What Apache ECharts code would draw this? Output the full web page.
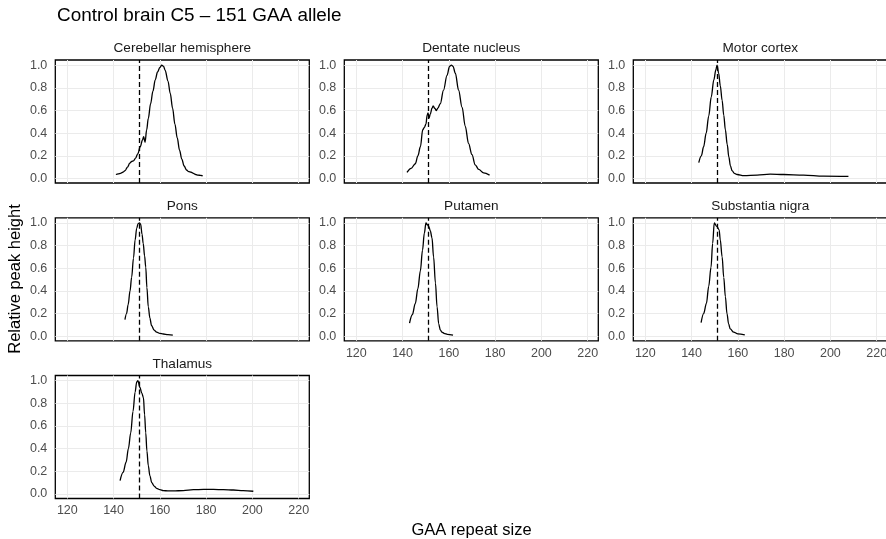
<!DOCTYPE html>
<html><head><meta charset="utf-8">
<script src="https://cdn.jsdelivr.net/npm/echarts@6/dist/echarts.min.js"></script>
<style>html,body{margin:0;padding:0;background:#fff}#c{width:886px;height:539px}</style>
</head><body><div id="c"></div>
<script>
// ---- data ----
const chartTitle = 'Control brain C5 \u2013 151 GAA allele';
const xAxisTitle = 'GAA repeat size';
const yAxisTitle = 'Relative peak height';
const panelNames = ['Cerebellar hemisphere','Dentate nucleus','Motor cortex','Pons','Putamen','Substantia nigra','Thalamus'];
const alleleSize = 151;
const xTicks = [120,140,160,180,200,220];
const yTicks = [0,0.2,0.4,0.6,0.8,1.0];

const cerebellarHemisphere = [[141,.035],[142,.04],[143,.045],[144,.055],[145,.07],[146,.1],[147,.135],[147.8,.15],[148.6,.155],[149.5,.18],[150.5,.22],[151.5,.28],[152.5,.34],[153,.37],[153.6,.32],[154.3,.43],[155,.53],[156,.66],[157,.77],[158,.87],[159,.94],[160,.98],[160.8,1.0],[161.6,.99],[162.3,.955],[163.5,.86],[164.5,.75],[165.5,.62],[166.5,.48],[167.5,.36],[168.5,.25],[169.5,.17],[170.5,.11],[171.5,.075],[172.5,.06],[173.5,.055],[174.5,.045],[175.5,.035],[176.5,.03],[177.5,.027],[178.5,.024]];
const dentateNucleus = [[141.9,.053],[143.7,.09],[145.5,.13],[146.6,.2],[147.7,.28],[148.7,.43],[149.4,.45],[150.1,.48],[150.6,.56],[151.0,.58],[151.4,.53],[152.0,.57],[152.7,.62],[153.2,.64],[153.9,.62],[154.6,.6],[155.2,.62],[156.3,.66],[157.7,.78],[159.2,.91],[160.3,.99],[161.1,1.0],[161.8,.99],[162.8,.93],[164.2,.78],[165.7,.63],[167.1,.46],[168.5,.31],[170.0,.21],[171.4,.12],[172.9,.08],[175.0,.05],[177.6,.03]];
const motorCortex = [[143.1,.14],[144.2,.2],[145.2,.28],[146.3,.4],[147.4,.55],[148.5,.72],[149.6,.87],[150.5,.96],[151,1.0],[151.7,.93],[152.4,.82],[153.2,.69],[153.9,.56],[154.6,.43],[155.4,.3],[156.1,.19],[156.8,.11],[157.5,.07],[158.5,.045],[159.7,.035],[162.6,.025],[168.3,.03],[174,.038],[179.8,.035],[188.4,.03],[197,.02],[207.8,.018]];
const pons = [[144.9,.146],[145.6,.2],[146.3,.28],[147.1,.4],[147.8,.52],[148.6,.69],[149.3,.85],[150,.955],[150.6,.995],[151.2,1.0],[151.7,.99],[152.3,.9],[152.8,.82],[153.4,.71],[153.9,.61],[154.4,.43],[155,.26],[155.7,.16],[156.4,.095],[157.5,.055],[158.6,.036],[160,.025],[161.5,.02],[163.5,.014],[165.6,.01]];
const putamen = [[143,.116],[144.2,.19],[145.5,.29],[146.6,.42],[147.7,.58],[148.6,.76],[149.4,.91],[150.1,1.0],[150.7,.985],[151.3,.97],[152,.93],[152.7,.87],[153.4,.7],[154.2,.47],[154.9,.26],[155.6,.11],[156.3,.056],[157,.036],[158.2,.024],[159.3,.017],[161.8,.01]];
const substantiaNigra = [[144.1,.12],[145.2,.2],[146.4,.29],[147.4,.44],[148.4,.61],[149.1,.82],[149.8,1.0],[150.9,.97],[151.9,.94],[152.4,.85],[153.2,.7],[153.9,.52],[154.6,.35],[155.3,.2],[156,.11],[156.7,.065],[158.2,.036],[160,.022],[163,.012]];
const thalamus = [[142.8,.118],[144.1,.19],[145.4,.28],[146.4,.4],[147.4,.54],[148.4,.73],[149.3,.9],[150,.99],[150.5,1.0],[151.4,.94],[152.2,.89],[152.9,.85],[153.4,.7],[153.9,.54],[154.4,.38],[155,.25],[155.7,.16],[156.5,.1],[157.5,.07],[158.6,.05],[160,.038],[161.5,.03],[163.5,.027],[165.8,.027],[170.1,.03],[174.5,.038],[178.9,.04],[183.2,.04],[187.5,.038],[191.8,.035],[196,.03],[200.4,.024]];
const panelData = [cerebellarHemisphere, dentateNucleus, motorCortex, pons, putamen, substantiaNigra, thalamus];

// ---- layout ----
const FONT = '"Liberation Sans", Arial, Helvetica, sans-serif';
const colLeft = [55.3, 344.3, 633.3], rowTop = [60, 217.8, 375.5], PW = 254, PH = 123;
const xRange = [114.8, 224.6], yRange = [-0.04, 1.046];
const stripY = [48, 206.3, 363.8];

const grids = [], xAxes = [], yAxes = [], series = [], texts = [];
panelNames.forEach((name, i) => {
  const r = Math.floor(i / 3), c = i % 3;
  grids.push({left: colLeft[c], top: rowTop[r], width: PW, height: PH, show: true,
    borderColor: '#000', borderWidth: 1.3, backgroundColor: '#fff',
    containLabel: false, outerBoundsMode: 'none'});
  const showX = i >= 4;
  xAxes.push({type: 'value', gridIndex: i, min: xRange[0], max: xRange[1],
    axisLine: {show: false}, axisTick: {show: false, customValues: xTicks},
    axisLabel: {show: showX, customValues: xTicks, color: '#4d4d4d', fontSize: 12.5, fontFamily: FONT, margin: 6},
    splitLine: {show: true, lineStyle: {color: '#ebebeb', width: 1}}});
  yAxes.push({type: 'value', gridIndex: i, min: yRange[0], max: yRange[1],
    axisLine: {show: false}, axisTick: {show: false, customValues: yTicks},
    axisLabel: {customValues: yTicks, color: '#4d4d4d', fontSize: 12.5, fontFamily: FONT, margin: 8,
      formatter: v => v.toFixed(1)},
    splitLine: {show: true, lineStyle: {color: '#ebebeb', width: 1}}});
  series.push({type: 'line', xAxisIndex: i, yAxisIndex: i, data: panelData[i],
    symbol: 'none', smooth: 0.35, smoothMonotone: 'x',
    lineStyle: {color: '#000', width: 1.3}, silent: true,
    markLine: {silent: true, symbol: ['none', 'none'], label: {show: false},
      lineStyle: {color: '#000', type: [5, 3], width: 1.3},
      data: [{xAxis: alleleSize}], animation: false}});
  texts.push({type: 'text', x: colLeft[c] + PW / 2, y: stripY[r],
    style: {text: name, fill: '#1a1a1a', font: '13.6px ' + FONT, align: 'center', verticalAlign: 'middle'}});
});
texts.push({type: 'text', x: 57, y: 16, style: {text: chartTitle, fill: '#000', font: '18.9px ' + FONT, align: 'left', verticalAlign: 'middle'}});
texts.push({type: 'text', x: 471.5, y: 530, style: {text: xAxisTitle, fill: '#000', font: '16.5px ' + FONT, align: 'center', verticalAlign: 'middle'}});
texts.push({type: 'text', x: 15, y: 279, rotation: Math.PI / 2, style: {text: yAxisTitle, fill: '#000', font: '16.5px ' + FONT, align: 'center', verticalAlign: 'middle'}});

const chart = echarts.init(document.getElementById('c'), null, {renderer: 'canvas'});
chart.setOption({animation: false, backgroundColor: '#fff', grid: grids, xAxis: xAxes, yAxis: yAxes, series, graphic: texts});
</script></body></html>
